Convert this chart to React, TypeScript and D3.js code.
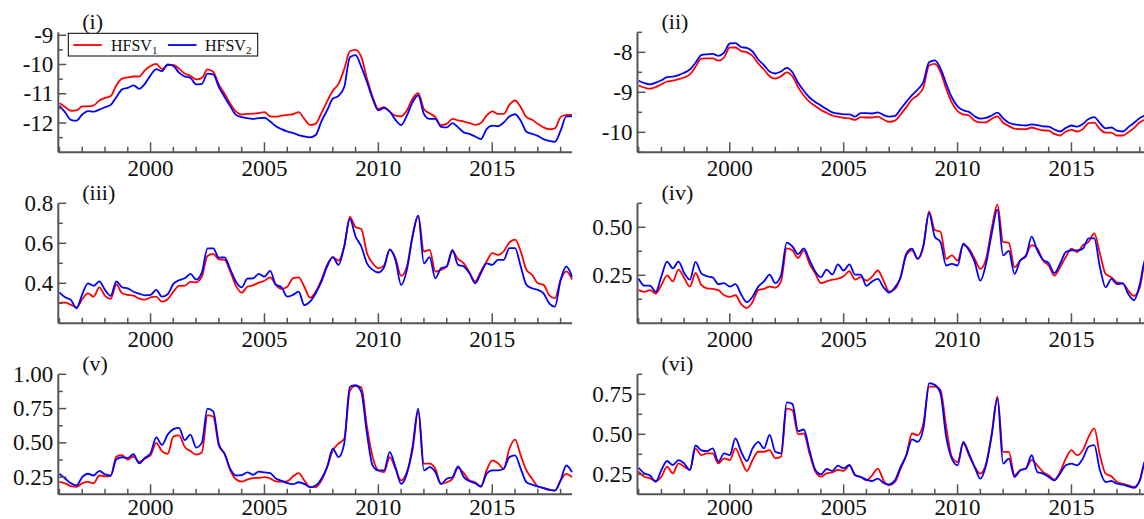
import React from "react";
import * as d3 from "d3";

// ---------- data (quarterly, 1996.00 .. 2018.50) ----------
const START_YEAR = 1996;
const STEP = 0.25;
const N = 91;
const dates: number[] = d3.range(N).map((i) => START_YEAR + i * STEP);

const xTickMajor = [2000, 2005, 2010, 2015];
const xTickMinor = [1996, 1997, 1998, 1999, 2001, 2002, 2003, 2004, 2006, 2007, 2008, 2009, 2011, 2012, 2013, 2014, 2016, 2017, 2018];

const panelLabels = ["(i)", "(ii)", "(iii)", "(iv)", "(v)", "(vi)"];
const seriesNames = ["HFSV", "HFSV"];
const seriesSubs = ["1", "2"];

// (i)
const p1Red = [
  -11.32, -11.45, -11.58, -11.57, -11.43, -11.43, -11.40, -11.23,
  -11.14, -11.08, -10.71, -10.48, -10.44, -10.41, -10.41, -10.20,
  -10.05, -9.98, -10.16, -10.02, -10.01, -10.14, -10.31, -10.39,
  -10.51, -10.46, -10.17, -10.25, -10.69, -11.00, -11.34, -11.61,
  -11.71, -11.69, -11.68, -11.66, -11.63, -11.77, -11.78, -11.75,
  -11.72, -11.70, -11.63, -11.86, -12.07, -12.02, -11.66, -11.26,
  -10.90, -10.66, -10.16, -9.55, -9.50, -9.74, -10.48, -11.11,
  -11.52, -11.46, -11.61, -11.75, -11.77, -11.57, -11.17, -10.98,
  -11.52, -11.67, -11.80, -12.07, -12.03, -11.86, -11.91, -11.95,
  -12.00, -12.06, -12.00, -11.75, -11.60, -11.69, -11.69, -11.38,
  -11.23, -11.46, -11.80, -11.89, -12.03, -12.15, -12.21, -12.18,
  -11.80, -11.72, -11.72,
];
const p1Blue = [
  -11.41, -11.63, -11.89, -11.92, -11.71, -11.59, -11.61, -11.54,
  -11.46, -11.38, -11.11, -10.85, -10.80, -10.71, -10.83, -10.66,
  -10.37, -10.16, -10.23, -10.00, -10.05, -10.28, -10.41, -10.46,
  -10.68, -10.66, -10.31, -10.34, -10.77, -11.11, -11.43, -11.72,
  -11.80, -11.83, -11.86, -11.83, -11.82, -11.95, -12.11, -12.21,
  -12.29, -12.34, -12.41, -12.46, -12.49, -12.41, -11.94, -11.57,
  -11.17, -11.07, -10.77, -9.75, -9.68, -10.08, -10.60, -11.17,
  -11.57, -11.49, -11.61, -11.89, -12.07, -11.75, -11.29, -11.05,
  -11.69, -11.86, -11.86, -12.13, -12.15, -12.00, -12.15, -12.32,
  -12.37, -12.46, -12.55, -12.21, -12.09, -12.11, -11.98, -11.78,
  -11.70, -11.92, -12.30, -12.37, -12.44, -12.55, -12.61, -12.64,
  -12.26, -11.77, -11.77,
];
// (ii)
const p2Red = [
  -8.83, -8.88, -8.91, -8.87, -8.80, -8.73, -8.71, -8.67,
  -8.63, -8.55, -8.36, -8.16, -8.15, -8.15, -8.21, -8.13,
  -7.88, -7.88, -7.97, -8.00, -8.09, -8.28, -8.43, -8.60,
  -8.66, -8.60, -8.50, -8.60, -8.87, -9.08, -9.24, -9.34,
  -9.44, -9.51, -9.58, -9.61, -9.64, -9.65, -9.69, -9.62,
  -9.63, -9.63, -9.61, -9.68, -9.74, -9.71, -9.55, -9.37,
  -9.18, -9.07, -8.88, -8.33, -8.29, -8.49, -8.91, -9.26,
  -9.47, -9.55, -9.58, -9.71, -9.75, -9.75, -9.66, -9.60,
  -9.76, -9.84, -9.91, -9.92, -9.92, -9.88, -9.92, -9.95,
  -9.96, -10.04, -10.08, -9.98, -9.94, -9.98, -9.92, -9.77,
  -9.76, -9.92, -10.01, -10.01, -10.08, -10.08, -10.00, -9.89,
  -9.75, -9.68, -9.62,
];
const p2Blue = [
  -8.71, -8.77, -8.80, -8.76, -8.70, -8.62, -8.61, -8.57,
  -8.51, -8.43, -8.26, -8.07, -8.05, -8.04, -8.09, -8.01,
  -7.78, -7.77, -7.87, -7.89, -7.98, -8.18, -8.32, -8.48,
  -8.53, -8.48, -8.39, -8.50, -8.76, -8.96, -9.13, -9.24,
  -9.33, -9.42, -9.50, -9.53, -9.55, -9.55, -9.61, -9.52,
  -9.52, -9.53, -9.50, -9.57, -9.61, -9.59, -9.42, -9.24,
  -9.07, -8.93, -8.74, -8.25, -8.20, -8.40, -8.78, -9.13,
  -9.35, -9.45, -9.49, -9.60, -9.66, -9.64, -9.58, -9.51,
  -9.65, -9.76, -9.80, -9.82, -9.83, -9.80, -9.82, -9.85,
  -9.86, -9.93, -9.98, -9.89, -9.83, -9.86, -9.79, -9.67,
  -9.62, -9.77, -9.90, -9.88, -9.96, -9.98, -9.87, -9.76,
  -9.64, -9.58, -9.52,
];
// (iii)
const p3Red = [
  0.303, 0.303, 0.293, 0.280, 0.320, 0.350, 0.333, 0.380,
  0.337, 0.322, 0.395, 0.350, 0.342, 0.338, 0.323, 0.318,
  0.330, 0.333, 0.308, 0.320, 0.358, 0.387, 0.388, 0.407,
  0.405, 0.433, 0.537, 0.547, 0.520, 0.517, 0.458, 0.387,
  0.353, 0.383, 0.390, 0.403, 0.413, 0.430, 0.392, 0.372,
  0.383, 0.425, 0.430, 0.383, 0.328, 0.358, 0.417, 0.492,
  0.531, 0.514, 0.584, 0.732, 0.681, 0.671, 0.551, 0.500,
  0.475, 0.490, 0.567, 0.526, 0.437, 0.484, 0.635, 0.738,
  0.559, 0.567, 0.459, 0.467, 0.484, 0.559, 0.521, 0.500,
  0.454, 0.410, 0.459, 0.509, 0.551, 0.542, 0.559, 0.604,
  0.618, 0.559, 0.467, 0.442, 0.400, 0.392, 0.341, 0.325,
  0.417, 0.460, 0.420,
];
const p3Blue = [
  0.355, 0.330, 0.317, 0.275, 0.345, 0.400, 0.387, 0.410,
  0.367, 0.337, 0.410, 0.380, 0.375, 0.358, 0.348, 0.340,
  0.342, 0.367, 0.333, 0.345, 0.397, 0.415, 0.425, 0.447,
  0.418, 0.453, 0.575, 0.575, 0.528, 0.530, 0.470, 0.408,
  0.380, 0.423, 0.425, 0.447, 0.433, 0.462, 0.393, 0.380,
  0.333, 0.342, 0.358, 0.291, 0.308, 0.350, 0.408, 0.484,
  0.531, 0.492, 0.584, 0.722, 0.634, 0.584, 0.500, 0.467,
  0.454, 0.480, 0.570, 0.517, 0.392, 0.467, 0.635, 0.738,
  0.500, 0.531, 0.425, 0.475, 0.484, 0.567, 0.492, 0.484,
  0.450, 0.400, 0.450, 0.500, 0.492, 0.517, 0.517, 0.576,
  0.576, 0.484, 0.392, 0.375, 0.367, 0.350, 0.300, 0.283,
  0.417, 0.484, 0.433,
];
// (iv)
const p4Red = [
  0.173, 0.164, 0.173, 0.155, 0.200, 0.250, 0.218, 0.280,
  0.236, 0.191, 0.262, 0.200, 0.182, 0.179, 0.173, 0.146,
  0.138, 0.146, 0.100, 0.080, 0.111, 0.173, 0.179, 0.191,
  0.186, 0.218, 0.390, 0.380, 0.340, 0.380, 0.310, 0.260,
  0.210, 0.218, 0.227, 0.232, 0.245, 0.271, 0.227, 0.240,
  0.222, 0.243, 0.275, 0.222, 0.165, 0.178, 0.240, 0.354,
  0.380, 0.336, 0.398, 0.583, 0.486, 0.477, 0.336, 0.354,
  0.327, 0.407, 0.389, 0.336, 0.283, 0.336, 0.495, 0.618,
  0.424, 0.419, 0.292, 0.327, 0.354, 0.407, 0.389, 0.327,
  0.301, 0.248, 0.292, 0.345, 0.389, 0.371, 0.407, 0.424,
  0.468, 0.363, 0.257, 0.240, 0.213, 0.208, 0.169, 0.143,
  0.187, 0.327, 0.330,
];
const p4Blue = [
  0.232, 0.196, 0.196, 0.164, 0.245, 0.321, 0.286, 0.321,
  0.262, 0.227, 0.320, 0.260, 0.245, 0.239, 0.204, 0.209,
  0.191, 0.204, 0.150, 0.110, 0.138, 0.191, 0.218, 0.254,
  0.209, 0.250, 0.420, 0.400, 0.360, 0.390, 0.330, 0.270,
  0.240, 0.280, 0.254, 0.307, 0.275, 0.307, 0.254, 0.254,
  0.195, 0.218, 0.231, 0.187, 0.160, 0.187, 0.240, 0.363,
  0.389, 0.336, 0.407, 0.574, 0.451, 0.424, 0.301, 0.310,
  0.301, 0.415, 0.380, 0.319, 0.222, 0.310, 0.468, 0.592,
  0.354, 0.377, 0.257, 0.327, 0.349, 0.451, 0.380, 0.331,
  0.313, 0.261, 0.310, 0.371, 0.380, 0.380, 0.389, 0.442,
  0.442, 0.292, 0.187, 0.231, 0.204, 0.208, 0.151, 0.120,
  0.204, 0.336, 0.340,
];
// (v)
const p5Red = [
  0.215, 0.205, 0.185, 0.180, 0.205, 0.215, 0.205, 0.262,
  0.255, 0.260, 0.400, 0.410, 0.378, 0.400, 0.360, 0.385,
  0.410, 0.500, 0.440, 0.420, 0.546, 0.555, 0.470, 0.440,
  0.415, 0.430, 0.700, 0.690, 0.480, 0.420, 0.300, 0.235,
  0.218, 0.232, 0.243, 0.245, 0.250, 0.240, 0.220, 0.218,
  0.220, 0.255, 0.279, 0.226, 0.177, 0.177, 0.226, 0.323,
  0.445, 0.494, 0.530, 0.880, 0.915, 0.905, 0.616, 0.396,
  0.299, 0.287, 0.396, 0.311, 0.226, 0.287, 0.445, 0.733,
  0.348, 0.348, 0.311, 0.201, 0.213, 0.238, 0.318, 0.279,
  0.226, 0.213, 0.182, 0.299, 0.372, 0.352, 0.311, 0.457,
  0.523, 0.409, 0.299, 0.238, 0.182, 0.172, 0.160, 0.152,
  0.226, 0.274, 0.250,
];
const p5Blue = [
  0.275, 0.240, 0.205, 0.190, 0.250, 0.275, 0.262, 0.296,
  0.270, 0.262, 0.380, 0.395, 0.390, 0.417, 0.350, 0.390,
  0.425, 0.540, 0.485, 0.560, 0.600, 0.610, 0.520, 0.560,
  0.466, 0.500, 0.750, 0.730, 0.490, 0.420, 0.310, 0.262,
  0.265, 0.285, 0.267, 0.290, 0.285, 0.280, 0.240, 0.223,
  0.206, 0.199, 0.213, 0.201, 0.177, 0.189, 0.238, 0.323,
  0.457, 0.396, 0.494, 0.909, 0.920, 0.872, 0.567, 0.335,
  0.299, 0.299, 0.433, 0.323, 0.201, 0.274, 0.470, 0.750,
  0.299, 0.323, 0.287, 0.201, 0.238, 0.250, 0.328, 0.250,
  0.221, 0.206, 0.182, 0.274, 0.299, 0.299, 0.311, 0.396,
  0.409, 0.311, 0.213, 0.196, 0.182, 0.170, 0.157, 0.152,
  0.226, 0.335, 0.287,
];
// (vi)
const p6Red = [
  0.267, 0.235, 0.225, 0.208, 0.235, 0.298, 0.256, 0.318,
  0.298, 0.277, 0.410, 0.370, 0.381, 0.381, 0.318, 0.350,
  0.339, 0.412, 0.339, 0.271, 0.339, 0.391, 0.391, 0.401,
  0.350, 0.360, 0.660, 0.650, 0.500, 0.505, 0.380, 0.270,
  0.235, 0.256, 0.262, 0.277, 0.271, 0.304, 0.246, 0.233,
  0.212, 0.244, 0.286, 0.212, 0.181, 0.202, 0.286, 0.369,
  0.505, 0.495, 0.568, 0.798, 0.798, 0.777, 0.547, 0.359,
  0.327, 0.442, 0.369, 0.296, 0.254, 0.317, 0.505, 0.735,
  0.390, 0.390, 0.244, 0.275, 0.286, 0.338, 0.306, 0.265,
  0.244, 0.217, 0.265, 0.348, 0.401, 0.369, 0.401, 0.484,
  0.537, 0.369, 0.254, 0.238, 0.202, 0.191, 0.181, 0.170,
  0.212, 0.327, 0.330,
];
const p6Blue = [
  0.291, 0.256, 0.242, 0.204, 0.277, 0.333, 0.308, 0.339,
  0.318, 0.277, 0.430, 0.400, 0.395, 0.412, 0.329, 0.381,
  0.370, 0.474, 0.391, 0.333, 0.412, 0.453, 0.412, 0.496,
  0.391, 0.381, 0.700, 0.690, 0.520, 0.530, 0.400, 0.280,
  0.250, 0.283, 0.271, 0.304, 0.287, 0.308, 0.246, 0.233,
  0.217, 0.208, 0.223, 0.196, 0.187, 0.212, 0.296, 0.369,
  0.468, 0.453, 0.537, 0.819, 0.809, 0.756, 0.484, 0.348,
  0.306, 0.453, 0.380, 0.296, 0.223, 0.306, 0.495, 0.725,
  0.317, 0.348, 0.233, 0.275, 0.286, 0.369, 0.265, 0.254,
  0.233, 0.212, 0.254, 0.306, 0.317, 0.306, 0.348, 0.422,
  0.432, 0.275, 0.202, 0.208, 0.191, 0.185, 0.175, 0.166,
  0.212, 0.338, 0.340,
];

// y-axis domains and ticks per panel
const yDomains: [number, number][] = [
  [-13, -8.9],
  [-10.5, -7.5],
  [0.2, 0.8],
  [0, 0.625],
  [0.125, 1.0],
  [0.125, 0.875],
];
const yMajor: number[][] = [
  [-12, -11, -10, -9],
  [-10, -9, -8],
  [0.4, 0.6, 0.8],
  [0.25, 0.5],
  [0.25, 0.5, 0.75, 1.0],
  [0.25, 0.5, 0.75],
];
const yMajorLabels: string[][] = [
  ["-12", "-11", "-10", "-9"],
  ["-10", "-9", "-8"],
  ["0.4", "0.6", "0.8"],
  ["0.25", "0.50"],
  ["0.25", "0.50", "0.75", "1.00"],
  ["0.25", "0.50", "0.75"],
];
const yMinor: number[][] = [
  [-12.5, -11.5, -10.5, -9.5],
  [-10.5, -9.5, -8.5, -7.5],
  [0.3, 0.5, 0.7],
  [0.125, 0.375, 0.625],
  [0.375, 0.625, 0.875],
  [0.375, 0.625, 0.875],
];

const redSeries = [p1Red, p2Red, p3Red, p4Red, p5Red, p6Red];
const blueSeries = [p1Blue, p2Blue, p3Blue, p4Blue, p5Blue, p6Blue];

// ---------- layout ----------
const W = 1144;
const H = 519;
const COL_X = [58.3, 637.5];
const PLOT_W = 513.7;
const ROW_TOP = [32.3, 203.3, 374.3];
const PLOT_H = 120;
const X_DOMAIN: [number, number] = [1995.95, 2018.5];
const RED = "#ff0000";
const BLUE = "#0000ff";
const AXIS = "#555555";
const FONT = "'Liberation Serif', 'Times New Roman', Times, serif";

function Panel({ idx }: { idx: number }) {
  const col = idx % 2;
  const row = Math.floor(idx / 2);
  const x0 = COL_X[col];
  const top = ROW_TOP[row];
  const bottom = top + PLOT_H;
  const x = d3.scaleLinear().domain(X_DOMAIN).range([x0, x0 + PLOT_W]);
  const y = d3.scaleLinear().domain(yDomains[idx]).range([bottom, top]);
  const line = d3
    .line<number>()
    .x((_, i) => x(dates[i]))
    .y((d) => y(d))
    .curve(d3.curveMonotoneX);
  const xLabelY = Math.min(bottom + 24, H - 4);

  return (
    <g>
      <path d={line(redSeries[idx]) || ""} fill="none" stroke={RED} strokeWidth={1.8} strokeLinejoin="round" />
      <path d={line(blueSeries[idx]) || ""} fill="none" stroke={BLUE} strokeWidth={1.8} strokeLinejoin="round" />
      {/* axes */}
      <line x1={x0} x2={x0} y1={top} y2={bottom} stroke={AXIS} strokeWidth={2} />
      <line x1={x0} x2={x0 + PLOT_W} y1={bottom} y2={bottom} stroke={AXIS} strokeWidth={2} />
      {yMajor[idx].map((v, i) => (
        <g key={"ym" + i}>
          <line x1={x0} x2={x0 + 8} y1={y(v)} y2={y(v)} stroke={AXIS} strokeWidth={1.5} />
          <text x={x0 - 5} y={y(v) + 7.5} textAnchor="end" fontSize={23} fill="#111">
            {yMajorLabels[idx][i]}
          </text>
        </g>
      ))}
      {yMinor[idx].map((v, i) => (
        <line key={"yn" + i} x1={x0} x2={x0 + 4.5} y1={y(v)} y2={y(v)} stroke={AXIS} strokeWidth={1.5} />
      ))}
      {xTickMajor.map((t) => (
        <g key={"xm" + t}>
          <line x1={x(t)} x2={x(t)} y1={bottom} y2={bottom - 10} stroke={AXIS} strokeWidth={1.5} />
          <text x={x(t)} y={xLabelY} textAnchor="middle" fontSize={23} fill="#111">
            {t}
          </text>
        </g>
      ))}
      {xTickMinor.map((t) => (
        <line key={"xn" + t} x1={x(t)} x2={x(t)} y1={bottom} y2={bottom - 5.5} stroke={AXIS} strokeWidth={1.5} />
      ))}
      <text x={x0 + 24} y={top - 3.5} fontSize={22} fill="#111">
        {panelLabels[idx]}
      </text>
    </g>
  );
}

function Legend() {
  const bx = 68.3;
  const by = 33.3;
  const colors = [RED, BLUE];
  const sampleX = [73.3, 168];
  const textX = [111, 205];
  return (
    <g>
      <rect x={bx} y={by} width={189.4} height={22.7} fill="#fff" stroke="#000" strokeWidth={1} />
      {colors.map((c, i) => (
        <g key={i}>
          <line x1={sampleX[i]} x2={sampleX[i] + 28.5} y1={45} y2={45} stroke={c} strokeWidth={1.8} />
          <text x={textX[i]} y={50.5} fontSize={16} fill="#111">
            {seriesNames[i]}
            <tspan fontSize={11} dy={3.5}>
              {seriesSubs[i]}
            </tspan>
          </text>
        </g>
      ))}
    </g>
  );
}

export default function App() {
  return (
    <svg
      width={W}
      height={H}
      viewBox={`0 0 ${W} ${H}`}
      style={{ position: "absolute", left: 0, top: 0, background: "#fff" }}
      fontFamily={FONT}
    >
      <rect x={0} y={0} width={W} height={H} fill="#fff" />
      {[0, 1, 2, 3, 4, 5].map((i) => (
        <Panel key={i} idx={i} />
      ))}
      <Legend />
    </svg>
  );
}
